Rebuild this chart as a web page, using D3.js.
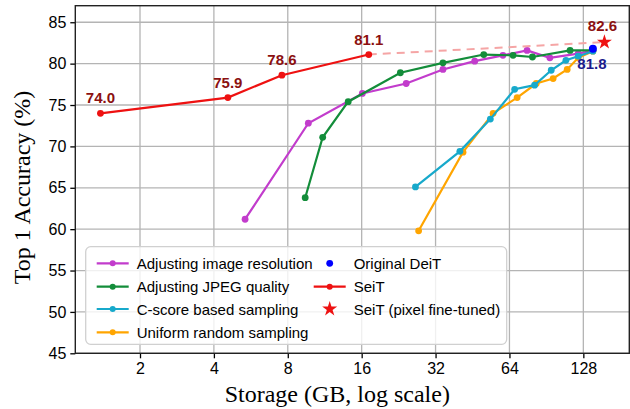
<!DOCTYPE html>
<html>
<head>
<meta charset="utf-8">
<script src="https://cdn.jsdelivr.net/npm/d3@7"></script>
<style>
    body { margin: 0; background: #fff; }
    .tick text { font-family: "Liberation Sans", Arial, sans-serif; font-size: 16px; fill: #000; }
</style>
</head>
<body>
<div id="chart"></div>
<script>
// storage (GB) and top-1 accuracy for each series
const resStorage = [5.36, 9.7, 16.1, 24.3, 34.3, 46.2, 60.2, 75.5, 93.5, 122, 140];
const resAcc = [61.2, 72.8, 76.4, 77.6, 79.3, 80.3, 81.0, 81.6, 80.7, 81.2, 81.6];

const jpegStorage = [9.42, 11.1, 14.1, 23, 34.3, 50.3, 66.2, 79.4, 113, 140];
const jpegAcc = [63.8, 71.1, 75.4, 78.9, 80.1, 81.1, 81.0, 80.8, 81.6, 81.6];

const cscoreStorage = [26.5, 40.2, 53.5, 67.2, 81, 94.7, 108.7, 122, 140];
const cscoreAcc = [65.1, 69.4, 73.3, 76.9, 77.4, 79.2, 80.4, 80.9, 81.5];

const uniformStorage = [27.3, 41.4, 54.9, 68.8, 82.3, 96.4, 110, 122, 140];
const uniformAcc = [59.8, 69.3, 74.0, 75.9, 77.6, 78.2, 79.3, 80.7, 81.5];

const seitStorage = [1.38, 4.56, 7.57, 17.1];
const seitAcc = [74.0, 75.9, 78.6, 81.1];

const deitStorage = 140, deitAcc = 81.8;
const finetunedStorage = 156, finetunedAcc = 82.6;

const xTicks = [2, 4, 8, 16, 32, 64, 128];
const yTicks = [45, 50, 55, 60, 65, 70, 75, 80, 85];

const legendNames = ['Adjusting image resolution', 'Adjusting JPEG quality', 'C-score based sampling',
    'Uniform random sampling', 'Original DeiT', 'SeiT', 'SeiT (pixel fine-tuned)'];

const colors = {
    res: '#c23ccc', jpeg: '#138d3a', cscore: '#17a9cb', uniform: '#ffa500',
    deit: '#0000ff', seit: '#ee1111', label: '#8b1010', deitLabel: '#1a1a8c'
};

const zip = (xs, ys) => xs.map((x, i) => ({ x: x, y: ys[i] }));

const width = 630, height = 409;
const margin = { top: 5.7, right: 0.7, bottom: 55.7, left: 75.3 };
const innerW = width - margin.left - margin.right;
const innerH = height - margin.top - margin.bottom;

const svg = d3.select('#chart').append('svg')
    .attr('width', width)
    .attr('height', height);

const chart = svg.append('g')
    .attr('transform', `translate(${margin.left},${margin.top})`);

// scales
const xScale = d3.scaleLog().base(2).domain([1.09, 197]).range([0, innerW]);
const yScale = d3.scaleLinear().domain([45, 87]).range([innerH, 0]);

// grid lines
chart.append('g').selectAll('line.vgrid')
    .data(xTicks)
    .join('line')
    .attr('x1', d => xScale(d)).attr('x2', d => xScale(d))
    .attr('y1', 0).attr('y2', innerH)
    .attr('stroke', '#b4b4b4').attr('stroke-width', 1.3);

chart.append('g').selectAll('line.hgrid')
    .data(yTicks)
    .join('line')
    .attr('x1', 0).attr('x2', innerW)
    .attr('y1', d => yScale(d)).attr('y2', d => yScale(d))
    .attr('stroke', '#b4b4b4').attr('stroke-width', 1.3);

// axes
const xAxis = d3.axisBottom(xScale).tickValues(xTicks).tickFormat(d3.format('d')).tickSize(5).tickPadding(4);
const yAxis = d3.axisLeft(yScale).tickValues(yTicks).tickSize(5).tickPadding(4);

const xAxisG = chart.append('g').attr('transform', `translate(0,${innerH})`).call(xAxis);
const yAxisG = chart.append('g').call(yAxis);
xAxisG.select('.domain').remove();
yAxisG.select('.domain').remove();
xAxisG.selectAll('.tick line').attr('stroke', '#000').attr('stroke-width', 1.3);
yAxisG.selectAll('.tick line').attr('stroke', '#000').attr('stroke-width', 1.3);

// frame
chart.append('rect')
    .attr('width', innerW).attr('height', innerH)
    .attr('fill', 'none').attr('stroke', '#222').attr('stroke-width', 1.4);

// axis titles
svg.append('text')
    .attr('x', margin.left + innerW / 2 - 15).attr('y', 402)
    .attr('text-anchor', 'middle')
    .style('font-family', '"Liberation Serif", "Times New Roman", serif')
    .style('font-size', '24px')
    .text('Storage (GB, log scale)');

svg.append('text')
    .attr('transform', `translate(30,${margin.top + innerH / 2 + 8}) rotate(-90)`)
    .attr('text-anchor', 'middle')
    .style('font-family', '"Liberation Serif", "Times New Roman", serif')
    .style('font-size', '24px')
    .text('Top 1 Accuracy (%)');

const line = d3.line().x(d => xScale(d.x)).y(d => yScale(d.y));

function drawSeries(data, color) {
    const g = chart.append('g');
    g.append('path')
        .datum(data)
        .attr('d', line)
        .attr('fill', 'none')
        .attr('stroke', color)
        .attr('stroke-width', 2.2);
    g.selectAll('circle')
        .data(data)
        .join('circle')
        .attr('cx', d => xScale(d.x))
        .attr('cy', d => yScale(d.y))
        .attr('r', 3.4)
        .attr('fill', color);
}

drawSeries(zip(resStorage, resAcc), colors.res);
drawSeries(zip(jpegStorage, jpegAcc), colors.jpeg);
drawSeries(zip(uniformStorage, uniformAcc), colors.uniform);
drawSeries(zip(cscoreStorage, cscoreAcc), colors.cscore);

// dashed link between last SeiT point and pixel fine-tuned star
const lastSeit = seitStorage.length - 1;
chart.append('line')
    .attr('x1', xScale(seitStorage[lastSeit])).attr('y1', yScale(seitAcc[lastSeit]))
    .attr('x2', xScale(finetunedStorage)).attr('y2', yScale(finetunedAcc))
    .attr('stroke', '#f5a5a5').attr('stroke-width', 2)
    .attr('stroke-dasharray', '8,6');

drawSeries(zip(seitStorage, seitAcc), colors.seit);

// original DeiT
chart.append('circle')
    .attr('cx', xScale(deitStorage)).attr('cy', yScale(deitAcc))
    .attr('r', 4).attr('fill', colors.deit);

// pixel fine-tuned star
const star = d3.symbol().type(d3.symbolStar).size(70);
chart.append('path')
    .attr('d', star)
    .attr('transform', `translate(${xScale(finetunedStorage)},${yScale(finetunedAcc)})`)
    .attr('fill', colors.seit);

// value labels
const labelFont = '"Liberation Sans", Arial, sans-serif';
chart.selectAll('text.seit-label')
    .data(zip(seitStorage, seitAcc))
    .join('text')
    .attr('class', 'seit-label')
    .attr('x', d => xScale(d.x))
    .attr('y', d => yScale(d.y) - 10)
    .attr('text-anchor', 'middle')
    .attr('fill', colors.label)
    .style('font-family', labelFont).style('font-size', '15px').style('font-weight', 'bold')
    .text(d => d.y.toFixed(1));

chart.append('text')
    .attr('x', xScale(finetunedStorage) - 2).attr('y', yScale(finetunedAcc) - 11)
    .attr('text-anchor', 'middle')
    .attr('fill', colors.label)
    .style('font-family', labelFont).style('font-size', '15px').style('font-weight', 'bold')
    .text(finetunedAcc.toFixed(1));

chart.append('text')
    .attr('x', xScale(deitStorage) - 1).attr('y', yScale(deitAcc) + 20)
    .attr('text-anchor', 'middle')
    .attr('fill', colors.deitLabel)
    .style('font-family', labelFont).style('font-size', '15px').style('font-weight', 'bold')
    .text(deitAcc.toFixed(1));

// legend
const legend = svg.append('g').attr('transform', 'translate(85.7,246.7)');
legend.append('rect')
    .attr('width', 421).attr('height', 97.6)
    .attr('rx', 5)
    .attr('fill', '#fff').attr('fill-opacity', 0.8)
    .attr('stroke', '#d0d0d0').attr('stroke-width', 1.3);

const legendItems = [
    { name: legendNames[0], color: colors.res, kind: 'line', col: 0, row: 0 },
    { name: legendNames[1], color: colors.jpeg, kind: 'line', col: 0, row: 1 },
    { name: legendNames[2], color: colors.cscore, kind: 'line', col: 0, row: 2 },
    { name: legendNames[3], color: colors.uniform, kind: 'line', col: 0, row: 3 },
    { name: legendNames[4], color: colors.deit, kind: 'dot', col: 1, row: 0 },
    { name: legendNames[5], color: colors.seit, kind: 'line', col: 1, row: 1 },
    { name: legendNames[6], color: colors.seit, kind: 'star', col: 1, row: 2 }
];
const colX = [11, 228], rowY = [16.6, 40, 62.3, 85.6];

const item = legend.selectAll('g.item')
    .data(legendItems)
    .join('g')
    .attr('transform', d => `translate(${colX[d.col]},${rowY[d.row]})`);

item.filter(d => d.kind === 'line').append('line')
    .attr('x1', 0).attr('x2', 32).attr('y1', 0).attr('y2', 0)
    .attr('stroke', d => d.color).attr('stroke-width', 2.2);
item.filter(d => d.kind !== 'star').append('circle')
    .attr('cx', 16).attr('cy', 0).attr('r', d => d.kind === 'dot' ? 3.4 : 3)
    .attr('fill', d => d.color);
item.filter(d => d.kind === 'star').append('path')
    .attr('d', d3.symbol().type(d3.symbolStar).size(70))
    .attr('transform', 'translate(16,0)')
    .attr('fill', d => d.color);
item.append('text')
    .attr('x', 40).attr('y', 5.5)
    .style('font-family', labelFont).style('font-size', '15px')
    .text(d => d.name);
</script>
</body>
</html>
